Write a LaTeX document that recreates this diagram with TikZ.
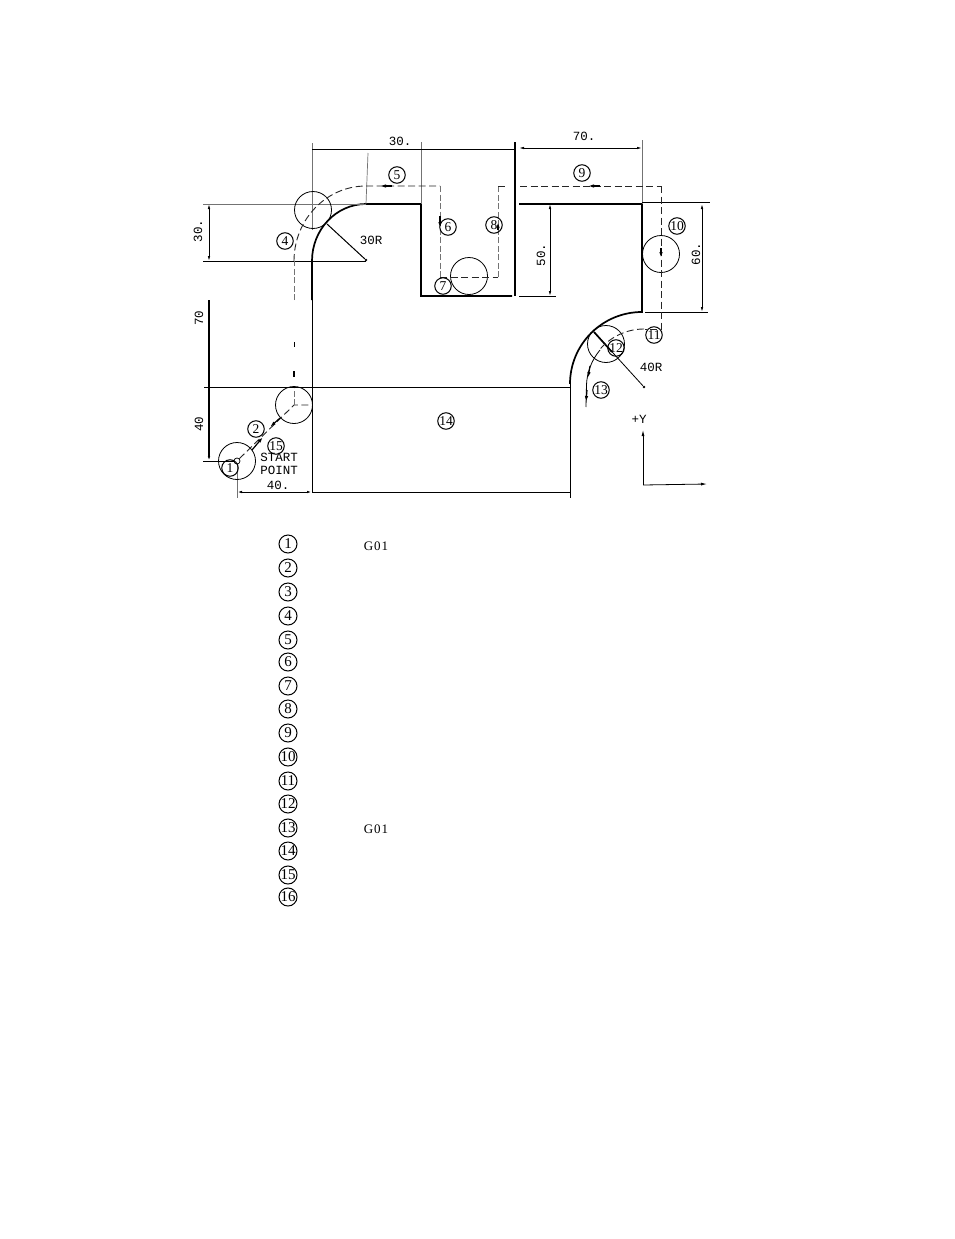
\documentclass[tikz,border=0pt]{standalone}
\usepackage{fontspec}
\setmainfont{Liberation Serif}
\setmonofont{Liberation Mono}
\usetikzlibrary{arrows.meta}
\tikzset{
	outline/.style={line width=1.7pt},
	thinline/.style={line width=0.8pt},
	greyline/.style={line width=0.7pt,black!55},
	toolpath/.style={line width=0.9pt,black!85,dash pattern=on 7pt off 3.5pt},
	toolgrey/.style={line width=0.8pt,black!55,dash pattern=on 6pt off 2.5pt},
	dimline/.style={line width=0.8pt,{Latex[length=5pt,width=2.5pt]}-{Latex[length=5pt,width=2.5pt]}},
	flow/.style={line width=1.2pt,-{Latex[length=6pt,width=3.5pt]}},
	cutter/.style={circle,draw,line width=0.8pt,minimum size=37pt,inner sep=0pt},
	num/.style={circle,draw,line width=1pt,minimum size=16.5pt,inner sep=0pt,font=\fontsize{13.5}{13.5}\selectfont},
	lab/.style={font=\ttfamily\fontsize{12.5}{12.5}\selectfont,inner sep=0pt},
}
\begin{document}
\begin{tikzpicture}[x=1pt,y=1pt]
	\useasboundingbox (0,0) rectangle (954,-1239);
	% part outline
	\coordinate (L1) at (312,-300);
	\coordinate (L2) at (312,-261);
	\coordinate (T1) at (366,-204);
	\coordinate (T2) at (421,-204);
	\coordinate (P1) at (421,-296);
	\coordinate (P2) at (512,-296);
	\coordinate (W1) at (515,-142);
	\coordinate (W2) at (515,-296);
	\coordinate (R1) at (519,-204);
	\coordinate (R2) at (642,-204);
	\coordinate (R3) at (642,-312);
	\coordinate (B1) at (570,-384);
	\coordinate (B2) at (570,-498);
	\draw[outline] (L1) -- (L2) arc[start angle=180,end angle=90,x radius=54pt,y radius=57pt] -- (T2) -- (P1) -- (P2);
	\draw[outline] (W1) -- (W2);
	\draw[outline] (R1) -- (R2) -- (R3) arc[start angle=90,end angle=180,radius=72pt];
	\draw[thinline] (B1) -- (B2);
	\draw[thinline] (L1) -- (312,-492);
	\draw[thinline] (204,-387) -- (570,-387);
	% dimensions
	\draw[greyline] (312,-143) -- (312,-230);
	\draw[greyline] (368,-153) -- (T1);
	\draw[greyline] (421,-142) -- (T2);
	\draw[greyline] (642,-140) -- (R2);
	\draw[greyline] (203,-204) -- (T1);
	\draw[thinline] (203,-261) -- (366,-261);
	\draw[thinline] (312,-149) -- (515,-149);
	\draw[dimline] (519,-148) -- (642,-148);
	\draw[dimline] (209,-204) -- (209,-261);
	\draw[outline,-{Latex[length=5pt,width=2.5pt]}] (209,-300) -- (209,-461);
	\draw[thinline] (203,-461) -- (237,-461);
	\draw[greyline] (237,-461) -- (237,-498);
	\draw[dimline,line width=1pt] (237,-492) -- (312,-492);
	\draw[thinline] (312,-492) -- (570,-492);
	\draw[dimline] (550,-204) -- (550,-296);
	\draw[thinline] (519,-296) -- (556,-296);
	\draw[thinline] (642,-202) -- (710,-202);
	\draw[thinline] (645,-312) -- (708,-312);
	\draw[dimline] (702,-204) -- (702,-312);
	% radius lines
	\node (C30) at (366,-260) [circle,fill,inner sep=1pt] {};
	\node (C40) at (644,-387) [circle,fill,inner sep=1pt] {};
	\coordinate (E30) at (327,-224);
	\coordinate (E40) at (594,-332);
	\draw[line width=1pt] (C30) -- (E30);
	\draw[thinline] (C40) -- (E40);
	\draw[outline] (E40) -- (612,-352);
	% cutter positions
	\node[cutter] (S1) at (237,-461) {};
	\node[cutter] (S3) at (294,-405) {};
	\node[cutter] (S4) at (313,-210) {};
	\node[cutter] (S7) at (469,-276) {};
	\node[cutter] (S10) at (661,-254) {};
	\node[cutter] (S12) at (606,-344) {};
	\node[circle,draw,fill=white,line width=0.7pt,minimum size=6pt,inner sep=0pt] (SP) at (237,-461) {};
	% tool path
	\draw[toolpath] (SP) -- (294,-405) -- (312,-405);
	\draw[toolgrey] (294,-405) -- (294,-388);
	\draw[line width=1.2pt] (294,-371) -- (294,-377);
	\draw[line width=1pt] (294,-342) -- (294,-347);
	\draw[toolgrey] (294,-300) -- (294,-261);
	\draw[toolpath] (294,-261) arc[start angle=180,end angle=90,x radius=72pt,y radius=75pt] -- (440,-186);
	\draw[toolgrey] (440,-186) -- (440,-277);
	\draw[toolpath] (440,-277) -- (498,-277);
	\draw[toolgrey] (498,-277) -- (498,-186);
	\draw[toolpath] (498,-186) -- (508,-186);
	\draw[toolpath] (520,-186) -- (661,-186);
	\draw[toolpath] (661,-186) -- (661,-329) -- (645,-329);
	\draw[toolpath] (644,-329) arc[start angle=90,end angle=140,radius=58pt];
	\draw[thinline] (600,-350) arc[start angle=140,end angle=178,radius=58pt] -- (586,-407);
	% flow arrows
	\draw[flow] (252,-450) -- (263,-437);
	\draw[flow] (280,-418) -- (270,-427);
	\draw[flow] (392,-186) -- (380,-186);
	\draw[flow] (440,-216) -- (440,-228);
	\draw[flow] (498,-230) -- (498,-222);
	\draw[flow] (600,-186) -- (588,-186);
	\draw[flow] (661,-248) -- (661,-258);
	\draw[flow] (590,-366) -- (588,-378);
	\draw[flow] (587,-390) -- (586,-402);
	% axes
	\coordinate (O) at (643,-485);
	\draw[thinline,-{Latex[length=6pt,width=3pt]}] (O) -- (643,-430);
	\draw[thinline,-{Latex[length=6pt,width=3pt]}] (O) -- (707,-484);
	% labels
	\node[lab] (D30T) at (400,-141) {30.};
	\node[lab] (D70T) at (584,-136) {70.};
	\node[lab,rotate=90] (D30L) at (198,-231) {30.};
	\node[lab,rotate=90] (D70L) at (199,-318) {70};
	\node[lab,rotate=90] (D40L) at (199,-424) {40};
	\node[lab] (D40B) at (278,-485) {40.};
	\node[lab,rotate=90] (D50) at (541,-255) {50.};
	\node[lab,rotate=90] (D60) at (696,-254) {60.};
	\node[lab] (R30) at (371,-240) {30R};
	\node[lab] (R40) at (651,-367) {40R};
	\node[lab] (PY) at (639,-419) {+Y};
	\node[lab] (START) at (279,-457) {START};
	\node[lab] (POINT) at (279,-470) {POINT};
	% circled numbers on the drawing
	\node[num] (N1) at (230,-468) {1};
	\node[num] (N2) at (256,-429) {2};
	\node[num] (N15) at (276,-446) {15};
	\node[num] (N4) at (285,-241) {4};
	\node[num] (N5) at (397,-175) {5};
	\node[num] (N6) at (448,-227) {6};
	\node[num] (N7) at (443,-286) {7};
	\node[num] (N8) at (494,-225) {8};
	\node[num] (N9) at (582,-173) {9};
	\node[num] (N10) at (677,-226) {10};
	\node[num] (N11) at (654,-335) {11};
	\node[num] (N12) at (616,-348) {12};
	\node[num] (N13) at (601,-390) {13};
	\node[num] (N14) at (446,-421) {14};
	% list of blocks
	\foreach \n/\y in {1/544,2/568,3/592,4/616,5/640,6/662,7/686,8/709,9/733,10/757,11/781,12/804,13/828,14/851,15/875,16/897}
		\node[num,minimum size=18pt,font=\fontsize{15}{15}\selectfont] (K\n) at (288,-\y) {\n};
	\node[lab,font=\fontsize{13}{13}\selectfont\addfontfeature{LetterSpace=8}] (G1) at (376,-546) {G01};
	\node[lab,font=\fontsize{13}{13}\selectfont\addfontfeature{LetterSpace=8}] (G13) at (376,-829) {G01};
\end{tikzpicture}
\end{document}
